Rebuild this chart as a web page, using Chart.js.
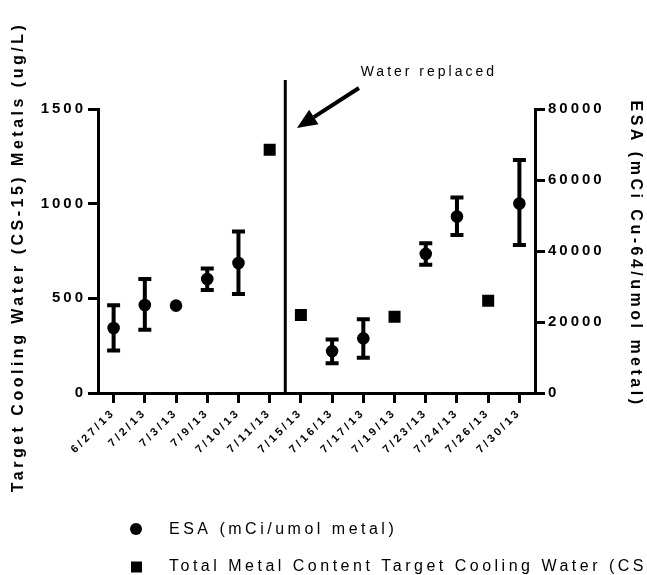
<!DOCTYPE html>
<html>
<head>
<meta charset="utf-8">
<script src="https://cdn.jsdelivr.net/npm/chart.js@4.4.1/dist/chart.umd.min.js"></script>
<style>
  body { margin: 0; background: #fff; }
  canvas { display: block; }
</style>
</head>
<body>
<canvas id="esaChart" width="647" height="575"></canvas>
<script>
// Fechas de muestreo
const fechas = ['6/27/13', '7/2/13', '7/3/13', '7/9/13', '7/10/13', '7/11/13', '7/15/13',
                '7/16/13', '7/17/13', '7/19/13', '7/23/13', '7/24/13', '7/26/13', '7/30/13'];

// ESA (mCi/umol metal): media y rango
const esaMedia = [18300, 24800, 24600, 32100, 36600, null, null, 11800, 15400, null, 39200, 49700, null, 53400];
const esaMin   = [12000, 17800, null, 29000, 27900, null, null, 8400, 9900, null, 36100, 44500, null, 41700];
const esaMax   = [24700, 32100, null, 35100, 45500, null, null, 15100, 20800, null, 42200, 55100, null, 65600];

// Metales totales en el agua de enfriamiento (ug/L)
const metales = [null, null, null, null, null, 1285, 412, null, null, 403, null, null, 487, null];

// Escalas
const ticksMetales = { min: 0, max: 1500, paso: 500 };
const ticksEsa = { min: 0, max: 80000, paso: 20000 };

// Cambio de agua: despues de esta fecha
const cambioDespues = '7/11/13';
const textoCambio = 'Water replaced';

const fuente = 'Liberation Sans, Arial, sans-serif';
Chart.defaults.font.family = fuente;
Chart.defaults.color = '#000';

// Barras de error del ESA
const barrasError = {
    id: 'barrasError',
    beforeDatasetsDraw(chart) {
        const ctx = chart.ctx;
        const x = chart.scales.x;
        const y = chart.scales.yEsa;
        ctx.save();
        ctx.strokeStyle = '#000';
        ctx.lineWidth = 4;
        fechas.forEach(function (f, i) {
            if (esaMin[i] == null) return;
            const px = x.getPixelForValue(i);
            const arriba = y.getPixelForValue(esaMax[i]);
            const abajo = y.getPixelForValue(esaMin[i]);
            ctx.beginPath();
            ctx.moveTo(px, arriba); ctx.lineTo(px, abajo);
            ctx.moveTo(px - 6.5, arriba); ctx.lineTo(px + 6.5, arriba);
            ctx.moveTo(px - 6.5, abajo); ctx.lineTo(px + 6.5, abajo);
            ctx.stroke();
        });
        ctx.restore();
    }
};

// Espaciado de letras para las etiquetas de los ejes
const espaciado = {
    id: 'espaciado',
    beforeDraw(chart) {
        chart.ctx.letterSpacing = '3px';
    }
};

// Titulos de ejes, linea del cambio de agua, flecha y leyenda
const extras = {
    id: 'extras',
    afterDraw(chart) {
        const ctx = chart.ctx;
        const x = chart.scales.x;
        const y = chart.scales.y;
        const area = chart.chartArea;

        ctx.save();
        ctx.fillStyle = '#000';
        ctx.strokeStyle = '#000';

        // linea vertical entre fechas
        const idx = fechas.indexOf(cambioDespues);
        const xl = x.getPixelForValue(idx + 0.5);
        ctx.lineWidth = 3;
        ctx.beginPath();
        ctx.moveTo(xl, y.getPixelForValue(1653));
        ctx.lineTo(xl, area.bottom);
        ctx.stroke();

        // flecha
        const cola = { x: x.getPixelForValue(7.86), y: y.getPixelForValue(1611) };
        const punta = { x: x.getPixelForValue(5.875), y: y.getPixelForValue(1400) };
        const dx = punta.x - cola.x, dy = punta.y - cola.y;
        const len = Math.sqrt(dx * dx + dy * dy);
        const ux = dx / len, uy = dy / len;
        const bx = punta.x - ux * 20, by = punta.y - uy * 20;
        ctx.lineWidth = 4;
        ctx.beginPath();
        ctx.moveTo(cola.x, cola.y);
        ctx.lineTo(bx, by);
        ctx.stroke();
        ctx.beginPath();
        ctx.moveTo(punta.x, punta.y);
        ctx.lineTo(bx - uy * 8.6, by + ux * 8.6);
        ctx.lineTo(bx + uy * 8.6, by - ux * 8.6);
        ctx.closePath();
        ctx.fill();

        ctx.letterSpacing = '3px';
        ctx.font = '14px ' + fuente;
        ctx.textAlign = 'center';
        ctx.textBaseline = 'middle';
        ctx.fillText(textoCambio, x.getPixelForValue(10.1), y.getPixelForValue(1695));

        // titulos de los ejes
        ctx.letterSpacing = '3.5px';
        ctx.font = 'bold 16px ' + fuente;
        ctx.save();
        ctx.translate(19, 257);
        ctx.rotate(-Math.PI / 2);
        ctx.fillText('Target Cooling Water (CS-15) Metals (ug/L)', 0, 0);
        ctx.restore();
        ctx.save();
        ctx.translate(635, 254);
        ctx.rotate(Math.PI / 2);
        ctx.fillText('ESA (mCi Cu-64/umol metal)', 0, 0);
        ctx.restore();

        // leyenda
        ctx.beginPath();
        ctx.arc(136, 529, 6, 0, Math.PI * 2);
        ctx.fill();
        ctx.fillRect(131, 561.5, 11, 11);
        ctx.font = '16px ' + fuente;
        ctx.textAlign = 'left';
        ctx.fillText(chart.data.datasets[0].label, 169, 530);
        ctx.fillText(chart.data.datasets[1].label, 169, 567);

        ctx.restore();
    }
};

const ctx = document.getElementById('esaChart').getContext('2d');

new Chart(ctx, {
    type: 'line',
    data: {
        labels: fechas,
        datasets: [{
            label: 'ESA (mCi/umol metal)',
            data: esaMedia,
            yAxisID: 'yEsa',
            showLine: false,
            pointStyle: 'circle',
            pointRadius: 6.3,
            pointHoverRadius: 6.3,
            backgroundColor: '#000',
            borderColor: '#000',
            borderWidth: 0
        }, {
            label: 'Total Metal Content Target Cooling Water (CS-15)',
            data: metales,
            yAxisID: 'y',
            showLine: false,
            pointStyle: 'rect',
            pointRadius: 8.5,
            pointHoverRadius: 8.5,
            backgroundColor: '#000',
            borderColor: '#000',
            borderWidth: 0
        }]
    },
    options: {
        responsive: false,
        animation: false,
        layout: { padding: { top: 109, left: 0, right: 0, bottom: 0 } },
        plugins: {
            legend: { display: false },
            title: { display: false },
            tooltip: { enabled: false }
        },
        scales: {
            x: {
                type: 'category',
                offset: true,
                border: { display: true, color: '#000', width: 3 },
                grid: { display: true, drawOnChartArea: false, drawTicks: true, tickLength: 10, lineWidth: 3, color: '#000' },
                ticks: {
                    autoSkip: false,
                    maxRotation: 45,
                    minRotation: 45,
                    padding: 3,
                    font: { size: 11, weight: 'bold' }
                },
                afterFit: function (scale) { scale.height = 182; }
            },
            y: {
                position: 'left',
                min: ticksMetales.min,
                max: ticksMetales.max,
                border: { display: true, color: '#000', width: 3 },
                grid: { display: true, drawOnChartArea: false, drawTicks: true, tickLength: 10, lineWidth: 3, color: '#000' },
                ticks: {
                    stepSize: ticksMetales.paso,
                    padding: 2,
                    font: { size: 15, weight: 'bold' },
                    callback: function (v) { return String(v); }
                },
                afterFit: function (scale) { scale.width = 98; }
            },
            yEsa: {
                position: 'right',
                min: ticksEsa.min,
                max: ticksEsa.max,
                border: { display: true, color: '#000', width: 3 },
                grid: { display: true, drawOnChartArea: false, drawTicks: true, tickLength: 10, lineWidth: 3, color: '#000' },
                ticks: {
                    stepSize: ticksEsa.paso,
                    padding: 3,
                    font: { size: 15, weight: 'bold' },
                    callback: function (v) { return String(v); }
                },
                afterFit: function (scale) { scale.width = 112; }
            }
        }
    },
    plugins: [espaciado, barrasError, extras]
});
</script>
</body>
</html>
